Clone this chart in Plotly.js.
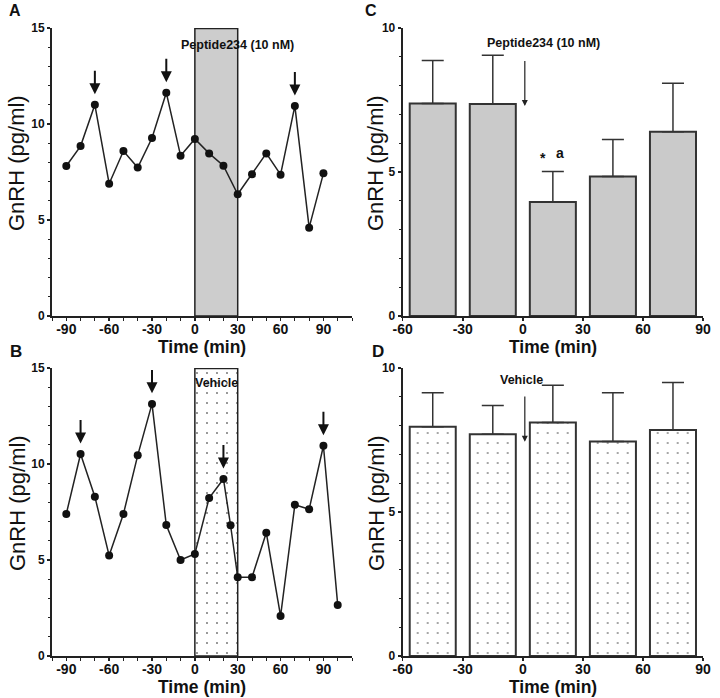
<!DOCTYPE html>
<html>
<head>
<meta charset="utf-8">
<script src="https://cdn.plot.ly/plotly-3.0.1.min.js"></script>
<style>html,body{margin:0;padding:0;background:#fff;}#chart{width:720px;height:698px;}</style>
</head>
<body>
<div id="chart"></div>
<script>
// ---- data ----
const timesA = [-90,-80,-70,-60,-50,-40,-30,-20,-10,0,10,20,30,40,50,60,70,80,90];
const gnrhA  = [7.81,8.85,11.0,6.89,8.59,7.73,9.27,11.63,8.35,9.22,8.47,7.83,6.34,7.38,8.47,7.36,10.94,4.60,7.43];
const pulsesA = [-70,-20,70];

const timesB = [-90,-80,-70,-60,-50,-40,-30,-20,-10,0,10,20,25,30,40,50,60,70,80,90,100];
const gnrhB  = [7.40,10.52,8.30,5.23,7.40,10.45,13.13,6.82,5.00,5.31,8.23,9.22,6.81,4.10,4.10,6.42,2.08,7.88,7.64,10.95,2.66];
const pulsesB = [-80,-30,20,90];

const binTimes = [-45,-15,15,45,75];
const meanC = [7.38,7.36,3.96,4.84,6.40];
const semC  = [1.49,1.69,1.06,1.29,1.68];
const meanD = [7.96,7.70,8.11,7.45,7.85];
const semD  = [1.18,1.00,1.29,1.69,1.65];

const treatWindow = [0,30];
const lineTicks = [-90,-60,-30,0,30,60,90];
const barTicks = [-60,-30,0,30,60,90];

// ---- helpers ----
const W = 720, H = 698;
const px = v => v / W;
const py = v => 1 - v / H;
const FONT = 'Liberation Sans, Arial, Helvetica, sans-serif';
const INK = '#222';

const traces = [];
traces.push({
  type:'bar', x:[(treatWindow[0]+treatWindow[1])/2], y:[15], width:[treatWindow[1]-treatWindow[0]],
  xaxis:'x2', yaxis:'y2', hoverinfo:'skip',
  marker:{color:'#fff', line:{color:INK, width:1.5},
    pattern:{shape:'.', fgcolor:'#777', bgcolor:'#fff', size:10, solidity:0.03}}
});
traces.push({
  type:'bar', x:[(treatWindow[0]+treatWindow[1])/2], y:[15], width:[treatWindow[1]-treatWindow[0]],
  xaxis:'x', yaxis:'y', hoverinfo:'skip',
  marker:{color:'#cdcdcd', line:{color:INK, width:1.5}}
});
traces.push({
  type:'scatter', mode:'lines+markers', x:timesA, y:gnrhA, xaxis:'x', yaxis:'y',
  line:{color:INK, width:1.5}, marker:{color:'#111', size:8}
});
traces.push({
  type:'scatter', mode:'lines+markers', x:timesB, y:gnrhB, xaxis:'x2', yaxis:'y2',
  line:{color:INK, width:1.5}, marker:{color:'#111', size:8}
});
traces.push({
  type:'bar', x:binTimes, y:meanC, width:23, xaxis:'x3', yaxis:'y3',
  marker:{color:'#cacaca', line:{color:'#333', width:2}},
  error_y:{type:'data', symmetric:false, array:semC, arrayminus:semC.map(()=>0), color:'#333', thickness:1.5, width:11}
});
traces.push({
  type:'bar', x:binTimes, y:meanD, width:23, xaxis:'x4', yaxis:'y4',
  marker:{color:'#fff', line:{color:'#333', width:2},
    pattern:{shape:'.', fgcolor:'#888', bgcolor:'#fff', size:10, solidity:0.03}},
  error_y:{type:'data', symmetric:false, array:semD, arrayminus:semD.map(()=>0), color:'#333', thickness:1.5, width:11}
});

function xax(dom, range, ticks, anchor, minorDt){
  const a = {domain:dom, range:range, anchor:anchor, tickvals:ticks, ticktext:ticks.map(String),
    showline:true, linecolor:INK, linewidth:2, ticks:'outside', ticklen:3, tickwidth:1.5, tickcolor:INK,
    ticklabelstandoff:-4,
    showgrid:false, zeroline:false, fixedrange:true,
    tickfont:{family:FONT, size:14, weight:'bold', color:'#111'}};
  if (minorDt) a.minor = {dtick:minorDt, tick0:0, ticks:'outside', ticklen:3, tickwidth:1, tickcolor:INK, showgrid:false};
  return a;
}
function yax(dom, range, dt, anchor){
  return {domain:dom, range:range, anchor:anchor, dtick:dt, tick0:0,
    showline:true, linecolor:INK, linewidth:2, ticks:'outside', ticklen:3, tickwidth:1.5, tickcolor:INK,
    showgrid:false, zeroline:false, fixedrange:true,
    minor:{dtick:1, ticks:'outside', ticklen:2, tickwidth:1, tickcolor:INK, showgrid:false},
    tickfont:{family:FONT, size:12, weight:'bold', color:'#111'}};
}

const domXL = [px(52), px(352)], domXR = [px(402.7), px(703)];
const domYT = [py(316), py(28)], domYB = [py(656), py(368)];

const ann = [];
function lbl(text, x, y, size, weight, angle){
  ann.push({text:text, xref:'paper', yref:'paper', x:px(x), y:py(y), xanchor:'center', yanchor:'middle',
    showarrow:false, textangle:angle||0, font:{family:FONT, size:size, weight:weight, color:'#111'}});
}
lbl('A', 15, 11, 16, 'bold'); lbl('B', 16, 351, 17, 'bold');
lbl('C', 371, 11, 16, 'bold'); lbl('D', 378, 351, 17, 'bold');
[[17,163],[17,503],[376,163],[376,503]].forEach(p => lbl('GnRH (pg/ml)', p[0], p[1], 22, 'normal', -90));
[[202,347],[202,687],[553,347],[553,687]].forEach(p => lbl('Time (min)', p[0], p[1], 17.5, 'bold'));

function txt(text, xr, yr, x, y, size){
  ann.push({text:text, xref:xr, yref:yr, x:x, y:y, xanchor:'center', yanchor:'middle', showarrow:false,
    font:{family:FONT, size:size, weight:'bold', color:'#111'}});
}
txt('Peptide234 (10 nM)', 'x', 'y', 29.6, 14.1, 12.5);
txt('Vehicle', 'x2', 'y2', 15.4, 14.23, 12.5);
txt('Peptide234 (10 nM)', 'x3', 'y3', 10.2, 9.47, 12.5);
txt('Vehicle', 'x4', 'y4', -0.7, 9.58, 12.5);
txt('*', 'x3', 'y3', 10.3, 5.5, 14);
txt('a', 'x3', 'y3', 18.5, 5.66, 14);

function pulseArrows(times, vals, pulses, xr, yr){
  pulses.forEach(p => {
    const v = vals[times.indexOf(p)];
    ann.push({text:'', xref:xr, yref:yr, axref:xr, ayref:yr, x:p, y:v+0.55, ax:p, ay:v+1.85,
      showarrow:true, arrowhead:2, arrowsize:1.1, arrowwidth:2, arrowcolor:'#111'});
  });
}
pulseArrows(timesA, gnrhA, pulsesA, 'x', 'y');
pulseArrows(timesB, gnrhB, pulsesB, 'x2', 'y2');
ann.push({text:'', xref:'x3', yref:'y3', axref:'x3', ayref:'y3', x:treatWindow[0]+1, y:7.29, ax:treatWindow[0]+1, ay:8.91,
  showarrow:true, arrowhead:2, arrowsize:1, arrowwidth:1.2, arrowcolor:'#222'});
ann.push({text:'', xref:'x4', yref:'y4', axref:'x4', ayref:'y4', x:treatWindow[0]+1, y:7.44, ax:treatWindow[0]+1, ay:9.06,
  showarrow:true, arrowhead:2, arrowsize:1, arrowwidth:1.2, arrowcolor:'#222'});

const shapes = [
  {type:'line', xref:'x', yref:'y', x0:treatWindow[0], x1:treatWindow[1], y0:15, y1:15, line:{color:INK, width:2.5}},
  {type:'line', xref:'x2', yref:'y2', x0:treatWindow[0], x1:treatWindow[1], y0:15, y1:15, line:{color:INK, width:2.5}}
];

const layout = {
  width:W, height:H, margin:{l:0,r:0,t:0,b:0}, paper_bgcolor:'#fff', plot_bgcolor:'rgba(0,0,0,0)',
  showlegend:false, barmode:'overlay',
  xaxis: xax(domXL, [-100,110], lineTicks, 'y', 10),
  yaxis: yax(domYT, [0,15], 5, 'x'),
  xaxis2: xax(domXL, [-100,110], lineTicks, 'y2', 10),
  yaxis2: yax(domYB, [0,15], 5, 'x2'),
  xaxis3: xax(domXR, [-60,90], barTicks, 'y3', null),
  yaxis3: yax(domYT, [0,10], 5, 'x3'),
  xaxis4: xax(domXR, [-60,90], barTicks, 'y4', null),
  yaxis4: yax(domYB, [0,10], 5, 'x4'),
  annotations: ann, shapes: shapes
};
Plotly.newPlot('chart', traces, layout, {staticPlot:true, displayModeBar:false});
</script>
</body>
</html>
